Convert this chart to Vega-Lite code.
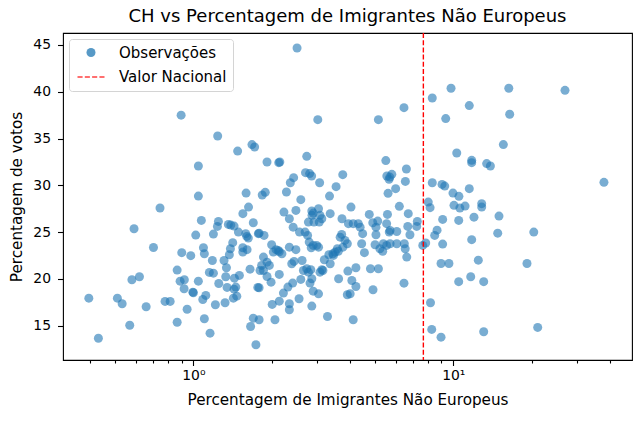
{
  "$schema": "https://vega.github.io/schema/vega-lite/v6.json",
  "autosize": {"type": "none"},
  "padding": {"left": 63, "top": 33, "right": 8, "bottom": 62},
  "width": 569,
  "height": 327,
  "title": {"text": "CH vs Percentagem de Imigrantes Não Europeus", "fontSize": 18, "fontWeight": "normal", "font": "DejaVu Sans", "color": "black", "anchor": "middle", "offset": 6},
  "datasets": {
    "obs": [
      {"imig": 0.396, "votos": 17.94}, {"imig": 0.431, "votos": 13.66}, {"imig": 0.51, "votos": 17.94}, {"imig": 0.532, "votos": 17.34},
      {"imig": 0.569, "votos": 15.05}, {"imig": 0.58, "votos": 19.91}, {"imig": 0.62, "votos": 20.23}, {"imig": 0.591, "votos": 25.36},
      {"imig": 0.658, "votos": 17.02}, {"imig": 0.702, "votos": 23.36}, {"imig": 0.744, "votos": 27.57}, {"imig": 0.778, "votos": 17.59},
      {"imig": 0.814, "votos": 17.59}, {"imig": 0.866, "votos": 15.37}, {"imig": 0.866, "votos": 20.94}, {"imig": 0.889, "votos": 19.76},
      {"imig": 0.897, "votos": 37.5}, {"imig": 0.902, "votos": 22.8}, {"imig": 0.921, "votos": 18.95}, {"imig": 0.923, "votos": 19.91},
      {"imig": 0.946, "votos": 16.76}, {"imig": 0.977, "votos": 22.48}, {"imig": 0.995, "votos": 18.58}, {"imig": 1.0, "votos": 18.52},
      {"imig": 1.021, "votos": 24.68}, {"imig": 1.045, "votos": 32.06}, {"imig": 1.045, "votos": 28.85}, {"imig": 1.045, "votos": 19.76},
      {"imig": 1.073, "votos": 26.25}, {"imig": 1.087, "votos": 17.8}, {"imig": 1.093, "votos": 23.33}, {"imig": 1.102, "votos": 22.69},
      {"imig": 1.102, "votos": 15.74}, {"imig": 1.116, "votos": 18.23}, {"imig": 1.152, "votos": 20.69}, {"imig": 1.159, "votos": 14.2},
      {"imig": 1.183, "votos": 21.97}, {"imig": 1.194, "votos": 24.79}, {"imig": 1.194, "votos": 20.61}, {"imig": 1.215, "votos": 17.23},
      {"imig": 1.237, "votos": 25.61}, {"imig": 1.24, "votos": 35.27}, {"imig": 1.248, "votos": 26.14}, {"imig": 1.252, "votos": 19.51},
      {"imig": 1.312, "votos": 21.97}, {"imig": 1.324, "votos": 17.45}, {"imig": 1.332, "votos": 20.23}, {"imig": 1.34, "votos": 21.19},
      {"imig": 1.348, "votos": 19.09}, {"imig": 1.363, "votos": 25.82}, {"imig": 1.375, "votos": 22.58}, {"imig": 1.388, "votos": 23.22},
      {"imig": 1.393, "votos": 25.75}, {"imig": 1.417, "votos": 23.87}, {"imig": 1.425, "votos": 17.94}, {"imig": 1.434, "votos": 25.64},
      {"imig": 1.434, "votos": 18.9}, {"imig": 1.438, "votos": 20.08}, {"imig": 1.456, "votos": 19.12}, {"imig": 1.469, "votos": 18.15},
      {"imig": 1.48, "votos": 33.66}, {"imig": 1.49, "votos": 25.0}, {"imig": 1.503, "votos": 20.37}, {"imig": 1.549, "votos": 23.33},
      {"imig": 1.549, "votos": 22.86}, {"imig": 1.55, "votos": 26.97}, {"imig": 1.59, "votos": 24.83}, {"imig": 1.595, "votos": 29.17},
      {"imig": 1.605, "votos": 24.54}, {"imig": 1.609, "votos": 23.12}, {"imig": 1.627, "votos": 24.36}, {"imig": 1.63, "votos": 27.67},
      {"imig": 1.652, "votos": 21.04}, {"imig": 1.66, "votos": 14.91}, {"imig": 1.68, "votos": 34.35}, {"imig": 1.70, "votos": 26.0},
      {"imig": 1.70, "votos": 15.8}, {"imig": 1.72, "votos": 34.1}, {"imig": 1.74, "votos": 12.96}, {"imig": 1.769, "votos": 19.09},
      {"imig": 1.778, "votos": 24.83}, {"imig": 1.79, "votos": 15.63}, {"imig": 1.79, "votos": 24.89}, {"imig": 1.79, "votos": 19.05},
      {"imig": 1.805, "votos": 20.9}, {"imig": 1.83, "votos": 21.44}, {"imig": 1.84, "votos": 28.97}, {"imig": 1.86, "votos": 22.33},
      {"imig": 1.86, "votos": 20.9}, {"imig": 1.87, "votos": 24.65}, {"imig": 1.89, "votos": 29.25}, {"imig": 1.92, "votos": 32.49},
      {"imig": 1.92, "votos": 21.79}, {"imig": 1.92, "votos": 20.26}, {"imig": 1.96, "votos": 21.44}, {"imig": 1.99, "votos": 19.65},
      {"imig": 2.00, "votos": 23.65}, {"imig": 2.01, "votos": 17.27}, {"imig": 2.03, "votos": 22.86}, {"imig": 2.06, "votos": 15.63},
      {"imig": 2.08, "votos": 23.12}, {"imig": 2.12, "votos": 23.04}, {"imig": 2.13, "votos": 32.42}, {"imig": 2.14, "votos": 22.9},
      {"imig": 2.14, "votos": 20.48}, {"imig": 2.14, "votos": 17.62}, {"imig": 2.15, "votos": 32.49}, {"imig": 2.19, "votos": 22.69},
      {"imig": 2.22, "votos": 18.48}, {"imig": 2.23, "votos": 27.14}, {"imig": 2.28, "votos": 29.28}, {"imig": 2.31, "votos": 19.12},
      {"imig": 2.34, "votos": 23.39}, {"imig": 2.34, "votos": 26.43}, {"imig": 2.34, "votos": 17.34}, {"imig": 2.34, "votos": 16.7},
      {"imig": 2.36, "votos": 30.28}, {"imig": 2.39, "votos": 21.62}, {"imig": 2.41, "votos": 19.55}, {"imig": 2.42, "votos": 25.53},
      {"imig": 2.43, "votos": 30.82}, {"imig": 2.44, "votos": 21.87}, {"imig": 2.48, "votos": 23.12}, {"imig": 2.48, "votos": 27.32},
      {"imig": 2.505, "votos": 44.68}, {"imig": 2.55, "votos": 17.88}, {"imig": 2.56, "votos": 25.0}, {"imig": 2.59, "votos": 28.47},
      {"imig": 2.59, "votos": 19.94}, {"imig": 2.62, "votos": 21.97}, {"imig": 2.65, "votos": 20.9}, {"imig": 2.69, "votos": 25.0},
      {"imig": 2.70, "votos": 31.35}, {"imig": 2.73, "votos": 33.1}, {"imig": 2.73, "votos": 21.08}, {"imig": 2.75, "votos": 24.65},
      {"imig": 2.77, "votos": 26.07}, {"imig": 2.77, "votos": 20.72}, {"imig": 2.79, "votos": 23.93}, {"imig": 2.80, "votos": 31.25},
      {"imig": 2.81, "votos": 19.55}, {"imig": 2.83, "votos": 20.98}, {"imig": 2.84, "votos": 23.33}, {"imig": 2.85, "votos": 30.99},
      {"imig": 2.855, "votos": 27.25}, {"imig": 2.855, "votos": 20.02}, {"imig": 2.855, "votos": 17.09}, {"imig": 2.86, "votos": 26.79},
      {"imig": 2.89, "votos": 27.03}, {"imig": 2.89, "votos": 18.69}, {"imig": 2.89, "votos": 23.58}, {"imig": 2.91, "votos": 26.07},
      {"imig": 2.98, "votos": 23.58}, {"imig": 3.01, "votos": 37.02}, {"imig": 3.03, "votos": 27.5}, {"imig": 3.03, "votos": 23.39},
      {"imig": 3.03, "votos": 18.4}, {"imig": 3.05, "votos": 26.07}, {"imig": 3.06, "votos": 30.28}, {"imig": 3.07, "votos": 26.79},
      {"imig": 3.07, "votos": 20.72}, {"imig": 3.12, "votos": 26.43}, {"imig": 3.12, "votos": 20.98}, {"imig": 3.15, "votos": 20.9},
      {"imig": 3.19, "votos": 22.05}, {"imig": 3.28, "votos": 15.98}, {"imig": 3.32, "votos": 22.58}, {"imig": 3.34, "votos": 28.85},
      {"imig": 3.36, "votos": 26.97}, {"imig": 3.36, "votos": 21.62}, {"imig": 3.44, "votos": 22.69}, {"imig": 3.46, "votos": 22.51},
      {"imig": 3.51, "votos": 22.86}, {"imig": 3.54, "votos": 29.86}, {"imig": 3.58, "votos": 23.22}, {"imig": 3.61, "votos": 22.94},
      {"imig": 3.62, "votos": 20.02}, {"imig": 3.67, "votos": 24.46}, {"imig": 3.72, "votos": 24.75}, {"imig": 3.73, "votos": 26.43},
      {"imig": 3.755, "votos": 31.14}, {"imig": 3.76, "votos": 23.39}, {"imig": 3.83, "votos": 24.11}, {"imig": 3.91, "votos": 23.76},
      {"imig": 3.91, "votos": 18.3}, {"imig": 3.93, "votos": 20.83}, {"imig": 3.95, "votos": 25.9}, {"imig": 4.01, "votos": 18.41},
      {"imig": 4.04, "votos": 27.67}, {"imig": 4.07, "votos": 19.83}, {"imig": 4.12, "votos": 25.9}, {"imig": 4.12, "votos": 15.63},
      {"imig": 4.22, "votos": 19.19}, {"imig": 4.22, "votos": 21.19}, {"imig": 4.31, "votos": 25.9}, {"imig": 4.38, "votos": 25.53},
      {"imig": 4.44, "votos": 23.76}, {"imig": 4.48, "votos": 24.83}, {"imig": 4.55, "votos": 22.8}, {"imig": 4.75, "votos": 26.89},
      {"imig": 4.8, "votos": 21.08}, {"imig": 4.9, "votos": 26.0}, {"imig": 4.91, "votos": 18.84}, {"imig": 5.0, "votos": 23.65},
      {"imig": 5.04, "votos": 25.53}, {"imig": 5.04, "votos": 24.72}, {"imig": 5.12, "votos": 26.18}, {"imig": 5.15, "votos": 37.02},
      {"imig": 5.15, "votos": 21.08}, {"imig": 5.22, "votos": 23.22}, {"imig": 5.35, "votos": 22.94}, {"imig": 5.38, "votos": 23.76},
      {"imig": 5.50, "votos": 32.64}, {"imig": 5.54, "votos": 25.9}, {"imig": 5.54, "votos": 23.58}, {"imig": 5.55, "votos": 30.99},
      {"imig": 5.58, "votos": 26.89}, {"imig": 5.61, "votos": 29.14}, {"imig": 5.66, "votos": 30.64}, {"imig": 5.67, "votos": 25.0},
      {"imig": 5.70, "votos": 30.88}, {"imig": 5.71, "votos": 25.18}, {"imig": 5.71, "votos": 23.76}, {"imig": 5.80, "votos": 31.17},
      {"imig": 6.0, "votos": 29.64}, {"imig": 6.06, "votos": 25.07}, {"imig": 6.06, "votos": 23.76}, {"imig": 6.2, "votos": 27.75},
      {"imig": 6.46, "votos": 38.3}, {"imig": 6.46, "votos": 19.54}, {"imig": 6.48, "votos": 23.76}, {"imig": 6.53, "votos": 23.22},
      {"imig": 6.54, "votos": 30.42}, {"imig": 6.60, "votos": 31.74}, {"imig": 6.62, "votos": 22.33}, {"imig": 6.68, "votos": 25.61},
      {"imig": 6.71, "votos": 26.97}, {"imig": 6.81, "votos": 24.72}, {"imig": 7.23, "votos": 25.61}, {"imig": 7.27, "votos": 26.14},
      {"imig": 7.63, "votos": 23.58}, {"imig": 7.83, "votos": 23.83}, {"imig": 8.01, "votos": 28.21}, {"imig": 8.14, "votos": 27.61},
      {"imig": 8.17, "votos": 17.45}, {"imig": 8.26, "votos": 14.6}, {"imig": 8.30, "votos": 39.33}, {"imig": 8.30, "votos": 30.28},
      {"imig": 8.48, "votos": 24.65}, {"imig": 8.66, "votos": 25.21}, {"imig": 8.97, "votos": 21.65}, {"imig": 8.97, "votos": 13.77},
      {"imig": 9.05, "votos": 30.1}, {"imig": 9.1, "votos": 26.36}, {"imig": 9.1, "votos": 23.72}, {"imig": 9.27, "votos": 29.92},
      {"imig": 9.35, "votos": 37.13}, {"imig": 9.62, "votos": 21.65}, {"imig": 9.80, "votos": 40.37}, {"imig": 9.97, "votos": 29.17},
      {"imig": 10.06, "votos": 27.86}, {"imig": 10.31, "votos": 33.45}, {"imig": 10.49, "votos": 26.25}, {"imig": 10.49, "votos": 19.7},
      {"imig": 10.51, "votos": 28.82}, {"imig": 10.6, "votos": 27.57}, {"imig": 11.1, "votos": 27.78}, {"imig": 11.52, "votos": 38.52},
      {"imig": 11.52, "votos": 29.64}, {"imig": 11.67, "votos": 20.23}, {"imig": 11.77, "votos": 32.67}, {"imig": 11.77, "votos": 32.42},
      {"imig": 11.77, "votos": 24.19}, {"imig": 12.01, "votos": 26.6}, {"imig": 12.48, "votos": 22.0}, {"imig": 12.86, "votos": 28.04},
      {"imig": 12.86, "votos": 27.67}, {"imig": 13.09, "votos": 19.7}, {"imig": 13.09, "votos": 14.35}, {"imig": 13.44, "votos": 32.32},
      {"imig": 13.89, "votos": 32.06}, {"imig": 14.82, "votos": 24.89}, {"imig": 14.99, "votos": 26.71}, {"imig": 15.58, "votos": 34.35},
      {"imig": 16.35, "votos": 40.37}, {"imig": 16.48, "votos": 37.59}, {"imig": 19.21, "votos": 21.65}, {"imig": 20.4, "votos": 25.0},
      {"imig": 21.12, "votos": 14.81}, {"imig": 26.9, "votos": 40.15}, {"imig": 37.98, "votos": 30.32}
    ],
    "nacional": [{"valor": 7.67}]
  },
  "layer": [
    {
      "data": {"name": "obs"},
      "mark": {"type": "point", "filled": true, "opacity": 0.6, "strokeWidth": 0},
      "encoding": {
        "x": {
          "field": "imig", "type": "quantitative",
          "scale": {"type": "log", "domain": [0.315, 48.7], "nice": false},
          "axis": {
            "title": "Percentagem de Imigrantes Não Europeus",
            "values": [0.4, 0.5, 0.6, 0.7, 0.8, 0.9, 1, 2, 3, 4, 5, 6, 7, 8, 9, 10, 20, 30, 40],
            "labelExpr": "datum.value == 1 ? '10⁰' : datum.value == 10 ? '10¹' : ''",
            "tickSize": {"condition": {"test": "datum.value == 1 || datum.value == 10", "value": 5.5}, "value": 3}, "labelPadding": 3, "titlePadding": 10, "labelOverlap": false, "labelFlush": false
          }
        },
        "y": {
          "field": "votos", "type": "quantitative",
          "scale": {"domain": [11.33, 46.28], "nice": false, "zero": false},
          "axis": {"title": "Percentagem de votos", "values": [15, 20, 25, 30, 35, 40, 45], "tickSize": 5.5, "labelPadding": 7, "titlePadding": 8}
        },
        "color": {
          "datum": "Observações",
          "scale": {"domain": ["Observações", "Valor Nacional"], "range": ["#1f77b4", "#ff0000"]},
          "legend": {"title": null, "orient": "top-left", "offset": 6, "padding": 6, "rowPadding": -1, "labelOffset": 12, "symbolOpacity": 0.75}
        },
        "shape": {
          "datum": "Observações",
          "scale": {"domain": ["Observações", "Valor Nacional"], "range": ["circle", "M-0.9,-0.047H-0.56V0.047H-0.9Z M-0.413,-0.047H-0.073V0.047H-0.413Z M0.074,-0.047H0.414V0.047H0.074Z M0.561,-0.047H0.9V0.047H0.561Z"]},
          "legend": {"title": null, "orient": "top-left", "offset": 6, "padding": 6, "rowPadding": -1, "labelOffset": 12, "symbolOpacity": 0.75}
        },
        "size": {
          "datum": "Observações",
          "scale": {"domain": ["Observações", "Valor Nacional"], "range": [81, 900]},
          "legend": {"title": null, "orient": "top-left", "offset": 6, "padding": 6, "rowPadding": -1, "labelOffset": 12, "symbolOpacity": 0.75}
        }
      }
    },
    {
      "data": {"name": "nacional"},
      "mark": {"type": "rule", "color": "#ff0000", "strokeWidth": 1.4, "strokeDash": [5, 2.2]},
      "encoding": {
        "x": {"field": "valor", "type": "quantitative"}
      }
    }
  ],
  "config": {
    "font": "DejaVu Sans",
    "view": {"stroke": "black", "strokeWidth": 1.1},
    "axis": {
      "grid": false, "domain": false, "tickColor": "black", "tickWidth": 1.1,
      "labelColor": "black", "labelFontSize": 13.9, "labelFont": "DejaVu Sans",
      "titleColor": "black", "titleFontSize": 15.2, "titleFont": "DejaVu Sans", "titleFontWeight": "normal"
    },
    "legend": {
      "labelFontSize": 15, "labelFont": "DejaVu Sans", "labelColor": "black",
      "strokeColor": "#d4d4d4", "fillColor": "rgba(255,255,255,0.8)", "cornerRadius": 3
    }
  }
}
